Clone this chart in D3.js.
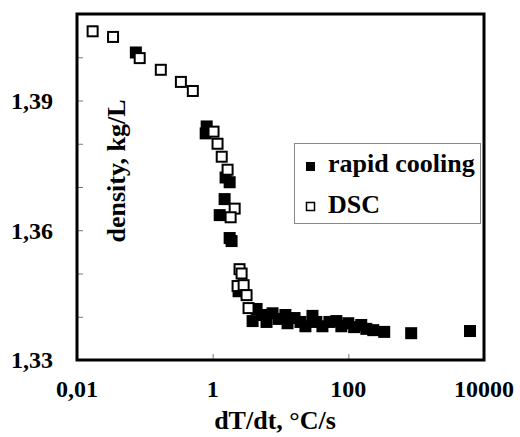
<!DOCTYPE html>
<html>
<head>
<meta charset="utf-8">
<script src="https://cdn.jsdelivr.net/npm/d3@7"></script>
<style>
  body { margin: 0; background: #fff; }
  text { font-family: "Liberation Serif", "Times New Roman", serif; font-weight: bold; }
</style>
</head>
<body>
<div id="my_dataviz"></div>
<script>
// rapid cooling (filled squares)
var rapidRate = [0.0737, 0.816, 0.789, 1.55, 1.78, 1.50, 1.27, 1.78, 1.90, 2.41,
  3.88, 4.44, 5.44, 6.22, 7.63, 9.35, 11.8, 12.7, 16.1, 19.7, 23.3, 29.6, 33.8,
  41.5, 52.6, 66.6, 78.9, 100, 122, 155, 184, 233, 338, 844, 6220];
var rapidDensity = [1.4011, 1.3840, 1.3824, 1.3722, 1.3711, 1.3672, 1.3635, 1.3582, 1.3575, 1.3459,
  1.3390, 1.3418, 1.3404, 1.3388, 1.3408, 1.3395, 1.3404, 1.3385, 1.3397, 1.3388, 1.3378, 1.3402, 1.3388,
  1.3378, 1.3388, 1.3390, 1.3378, 1.3385, 1.3376, 1.3381, 1.3372, 1.3369, 1.3365, 1.3362, 1.3367];

// DSC (open squares)
var dscRate = [0.017, 0.034, 0.084, 0.172, 0.34, 0.51, 1.03, 1.18, 1.36, 1.66,
  2.11, 1.84, 2.49, 2.67, 2.33, 2.86, 3.16, 3.38];
var dscDensity = [1.4060, 1.4047, 1.3998, 1.3971, 1.3943, 1.3922, 1.3828, 1.3800, 1.3770, 1.3740,
  1.3650, 1.3630, 1.3510, 1.3500, 1.3471, 1.3473, 1.3450, 1.3420];

var xTicks = [0.01, 1, 100, 10000];
var xTickLabels = ["0,01", "1", "100", "10000"];
var yTicks = [1.33, 1.34, 1.35, 1.36, 1.37, 1.38, 1.39, 1.40, 1.41];
var yLabelled = [1.33, 1.36, 1.39];
var seriesNames = ["rapid cooling", "DSC"];

var W = 520, H = 437;
var margin = {top: 14, right: 36, bottom: 77, left: 77},
    width = W - margin.left - margin.right,
    height = H - margin.top - margin.bottom;

var svg = d3.select("#my_dataviz")
  .append("svg")
  .attr("width", W)
  .attr("height", H)
  .append("g")
  .attr("transform", "translate(" + margin.left + "," + margin.top + ")");

var x = d3.scaleLog().domain([0.01, 10000]).range([0, width]);
var y = d3.scaleLinear().domain([1.33, 1.41]).range([height, 0]);

// inward ticks
svg.append("g")
  .attr("transform", "translate(0," + height + ")")
  .call(d3.axisBottom(x).tickValues(xTicks).tickSizeInner(-6).tickSizeOuter(0).tickFormat(""))
  .call(function(g) {
    g.select(".domain").remove();
    g.selectAll("line").attr("stroke", "#777");
  });

svg.append("g")
  .call(d3.axisLeft(y).tickValues(yTicks).tickSizeInner(-6).tickSizeOuter(0).tickFormat(""))
  .call(function(g) {
    g.select(".domain").remove();
    g.selectAll("line").attr("stroke", "#777");
  });

// tick labels
svg.selectAll(".xlab")
  .data(xTicks)
  .enter()
  .append("text")
  .attr("x", function(d) { return x(d); })
  .attr("y", height + 37)
  .attr("text-anchor", "middle")
  .style("font-size", "24px")
  .text(function(d, i) { return xTickLabels[i]; });

svg.selectAll(".ylab")
  .data(yLabelled)
  .enter()
  .append("text")
  .attr("x", -24)
  .attr("y", function(d) { return y(d); })
  .attr("dy", "0.35em")
  .attr("text-anchor", "end")
  .style("font-size", "24px")
  .text(function(d) { return d3.format(".2f")(d).replace(".", ","); });

// axis titles
svg.append("text")
  .attr("x", 198)
  .attr("y", height + 69)
  .attr("text-anchor", "middle")
  .style("font-size", "26px")
  .text("dT/dt, \u00B0C/s");

svg.append("text")
  .attr("transform", "translate(48,157) rotate(-90)")
  .attr("text-anchor", "middle")
  .style("font-size", "26px")
  .text("density, kg/L");

// points
var rapid = rapidRate.map(function(d, i) { return {x: d, y: rapidDensity[i]}; });
var dsc = dscRate.map(function(d, i) { return {x: d, y: dscDensity[i]}; });
var s = 12;

svg.selectAll(".rapid")
  .data(rapid)
  .enter()
  .append("rect")
  .attr("x", function(d) { return x(d.x) - s / 2; })
  .attr("y", function(d) { return y(d.y) - s / 2; })
  .attr("width", s)
  .attr("height", s)
  .attr("fill", "#000");

svg.selectAll(".dsc")
  .data(dsc)
  .enter()
  .append("rect")
  .attr("x", function(d) { return x(d.x) - (s - 2) / 2; })
  .attr("y", function(d) { return y(d.y) - (s - 2) / 2; })
  .attr("width", s - 2)
  .attr("height", s - 2)
  .attr("fill", "#fff")
  .attr("stroke", "#000")
  .attr("stroke-width", 2);

// frame
svg.append("rect")
  .attr("width", width)
  .attr("height", height)
  .attr("fill", "none")
  .attr("stroke", "#000")
  .attr("stroke-width", 3);

// legend
var leg = svg.append("g").attr("transform", "translate(217,129)");
leg.append("rect")
  .attr("x", 0.5).attr("y", 0.5)
  .attr("width", 186).attr("height", 80)
  .attr("fill", "#fff")
  .attr("stroke", "#888");

leg.append("rect")
  .attr("x", 12).attr("y", 19).attr("width", 9).attr("height", 9)
  .attr("fill", "#000");
leg.append("rect")
  .attr("x", 12.5).attr("y", 59.5).attr("width", 8).attr("height", 8)
  .attr("fill", "#fff").attr("stroke", "#000").attr("stroke-width", 1.5);

leg.selectAll(".lt")
  .data(seriesNames)
  .enter()
  .append("text")
  .attr("x", 34)
  .attr("y", function(d, i) { return 29 + i * 41; })
  .style("font-size", "26px")
  .text(function(d) { return d; });
</script>
</body>
</html>
